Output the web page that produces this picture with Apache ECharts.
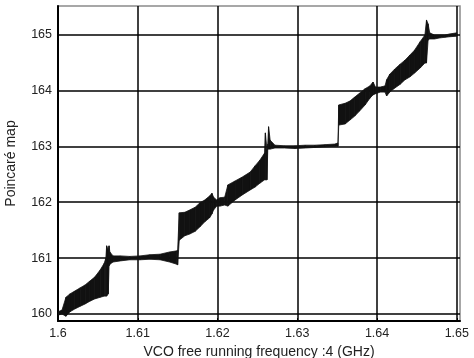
<!DOCTYPE html>
<html>
<head>
    <meta charset="utf-8">
    <title>Poincare map</title>
    <script src="https://cdn.jsdelivr.net/npm/echarts@6/dist/echarts.min.js"></script>
</head>
<body style="margin:0">
    <div id="chart" style="width: 474px;height:358px;"></div>
    <script type="text/javascript">
        // values: frequency, lower and upper edge of the band
        var freq = [1.6000, 1.6005, 1.6010, 1.6015, 1.6021, 1.6028, 1.6034, 1.6040, 1.6046, 1.6053,
            1.6058, 1.6060, 1.6061, 1.6063, 1.6064, 1.6065, 1.6069, 1.6078, 1.6090, 1.6103,
            1.6115, 1.6128, 1.6140, 1.6149, 1.6150, 1.6152, 1.6159, 1.6165, 1.6172, 1.6178,
            1.6184, 1.6190, 1.6193, 1.6195, 1.6199, 1.6203, 1.6209, 1.6213, 1.6222, 1.6231,
            1.6241, 1.6247, 1.6253, 1.6259, 1.6260, 1.6262, 1.6263, 1.6264, 1.6266, 1.6272,
            1.6284, 1.6297, 1.6310, 1.6322, 1.6335, 1.6347, 1.6351, 1.6352, 1.6360, 1.6366,
            1.6372, 1.6378, 1.6385, 1.6391, 1.6395, 1.6398, 1.6404, 1.6410, 1.6412, 1.6416,
            1.6422, 1.6429, 1.6435, 1.6441, 1.6447, 1.6454, 1.6460, 1.6462, 1.6464, 1.6466,
            1.6472, 1.6479, 1.6485, 1.6491, 1.6500];
        var upper = [160.04, 160.07, 160.30, 160.36, 160.41, 160.47, 160.52, 160.59, 160.66, 160.79,
            160.91, 161.00, 161.22, 161.14, 161.22, 161.11, 161.04, 161.04, 161.03, 161.04,
            161.06, 161.07, 161.11, 161.13, 161.14, 161.81, 161.82, 161.86, 161.91, 161.99,
            162.04, 162.11, 162.16, 162.09, 162.04, 162.08, 162.09, 162.31, 162.38, 162.45,
            162.54, 162.65, 162.75, 162.88, 163.24, 162.93, 163.04, 163.35, 163.11, 163.02,
            163.01, 163.01, 163.02, 163.02, 163.03, 163.04, 163.06, 163.74, 163.77, 163.81,
            163.88, 163.95, 164.03, 164.08, 164.15, 164.06, 164.06, 164.08, 164.19, 164.29,
            164.38, 164.47, 164.54, 164.63, 164.72, 164.87, 164.99, 165.26, 165.19, 165.03,
            164.99, 164.99, 164.99, 165.01, 165.03];
        var lower = [159.98, 160.00, 159.96, 160.04, 160.09, 160.14, 160.18, 160.23, 160.27, 160.30,
            160.32, 160.32, 160.32, 160.36, 160.86, 160.89, 160.93, 160.95, 160.97, 160.97,
            160.98, 160.97, 160.93, 160.89, 160.88, 161.32, 161.40, 161.43, 161.48, 161.56,
            161.65, 161.72, 161.79, 161.86, 161.93, 161.93, 161.95, 161.93, 162.04, 162.13,
            162.22, 162.27, 162.34, 162.40, 162.40, 162.40, 162.95, 162.95, 162.95, 162.97,
            162.97, 162.96, 162.97, 162.98, 162.99, 163.00, 163.00, 163.38, 163.40, 163.47,
            163.54, 163.63, 163.74, 163.86, 163.92, 163.94, 163.97, 163.97, 163.90, 163.97,
            164.04, 164.11, 164.19, 164.24, 164.31, 164.40, 164.49, 164.49, 164.90, 164.92,
            164.92, 164.94, 164.95, 164.96, 164.97];
        var xTicks = [1.6, 1.61, 1.62, 1.63, 1.64, 1.65];
        var yTicks = [160, 161, 162, 163, 164, 165];

        var data = [];
        for (var i = 0; i < freq.length; i++) {
            data.push([freq[i], lower[i], upper[i]]);
        }

        var chart = echarts.init(document.getElementById('chart'));
        var option = {
            backgroundColor: '#fff',
            animation: false,
            textStyle: { fontFamily: 'Liberation Sans, Arial, sans-serif' },
            grid: {
                left: 58, right: 14, top: 6, bottom: 37,
                outerBoundsMode: 'none',
                containLabel: false,
                show: true, borderColor: '#8a8a8a', borderWidth: 1.5
            },
            xAxis: {
                type: 'value',
                min: 1.6,
                max: 1.6504,
                name: 'VCO free running frequency :4 (GHz)',
                nameLocation: 'middle',
                nameGap: 24,
                nameTextStyle: { fontSize: 14, color: '#222' },
                axisLine: { lineStyle: { color: '#000', width: 2 } },
                axisTick: { inside: true, length: 3, customValues: xTicks, lineStyle: { color: '#000' } },
                axisLabel: { customValues: xTicks, fontSize: 12.5, color: '#222', margin: 6 },
                splitLine: { show: true, lineStyle: { color: '#000', width: 1.5 } }
            },
            yAxis: {
                type: 'value',
                min: 159.875,
                max: 165.51,
                name: 'Poincaré map',
                nameLocation: 'middle',
                nameGap: 40,
                nameTextStyle: { fontSize: 14, color: '#222' },
                axisLine: { lineStyle: { color: '#000', width: 2 } },
                axisTick: { show: false, customValues: yTicks },
                axisLabel: { customValues: yTicks, fontSize: 12.5, color: '#222', margin: 6 },
                splitLine: { show: true, lineStyle: { color: '#000', width: 1.5 } }
            },
            series: [{
                type: 'custom',
                data: data,
                clip: true,
                renderItem: function (params, api) {
                    var i = params.dataIndex;
                    if (i >= data.length - 1) return null;
                    var a = data[i], b = data[i + 1];
                    var p1 = api.coord([a[0], a[2]]);
                    var p2 = api.coord([b[0], b[2]]);
                    var p3 = api.coord([b[0], b[1]]);
                    var p4 = api.coord([a[0], a[1]]);
                    return {
                        type: 'polygon',
                        shape: { points: [p1, p2, p3, p4] },
                        style: { fill: '#111', stroke: '#111', lineWidth: 0.8 }
                    };
                }
            }]
        };
        chart.setOption(option);
    </script>
</body>
</html>
